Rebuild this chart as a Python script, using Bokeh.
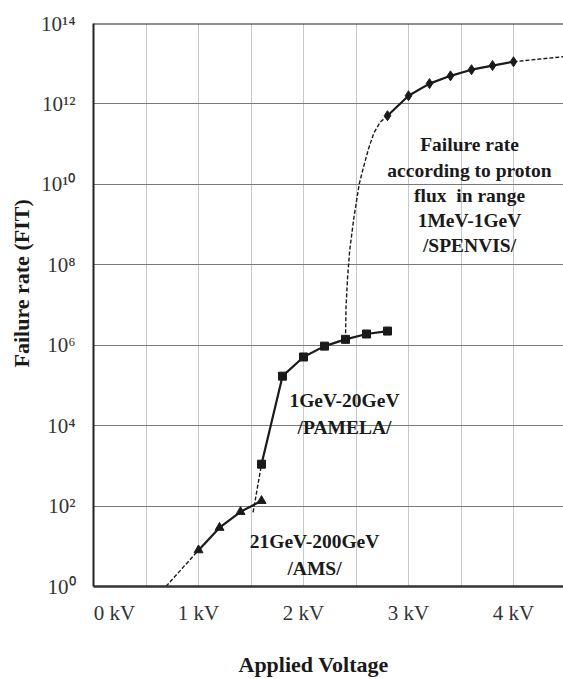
import math
from bokeh.plotting import figure
from bokeh.models import Range1d, FixedTicker, CustomJSTickFormatter, Label, Span, Title
from bokeh.embed import file_html
from bokeh.resources import INLINE

# ---- data ----
x_ticks = [0.2, 1, 2, 3, 4]          # the "0 kV" label sits right of the axis in the reference
x_grid = [0.5, 1.0, 1.5, 2.0, 2.5, 3.0, 3.5, 4.0]
y_ticks = [1e0, 1e2, 1e4, 1e6, 1e8, 1e10, 1e12, 1e14]
y_grid = [1e2, 1e4, 1e6, 1e8, 1e10, 1e12]

# AMS (21GeV-200GeV)
ams_v = [1.0, 1.2, 1.4, 1.6]
ams_f = [8, 29, 72, 135]
ams_ext_v = [0.69, 1.0]
ams_ext_f = [1.0, 8]

# PAMELA (1GeV-20GeV)
pamela_v = [1.6, 1.8, 2.0, 2.2, 2.4, 2.6, 2.8]
pamela_f = [1.1e3, 1.7e5, 5.1e5, 9.5e5, 1.4e6, 1.9e6, 2.25e6]
pamela_ext_v = [1.52, 1.6]
pamela_ext_f = [70, 1.1e3]

# SPENVIS (1MeV-1GeV)
spenvis_v = [2.8, 3.0, 3.2, 3.4, 3.6, 3.8, 4.0]
spenvis_f = [5.1e11, 1.6e12, 3.2e12, 5.0e12, 7.1e12, 9.0e12, 1.12e13]
spenvis_low_v = [2.4, 2.405, 2.42, 2.44, 2.48, 2.53, 2.57, 2.62, 2.67, 2.73, 2.8]
spenvis_low_f = [1.4e6, 9e6, 4.9e7, 2.3e8, 1.5e9, 1.0e10, 2.6e10, 7.8e10, 1.9e11, 3.5e11, 5.1e11]
spenvis_hi_v = [4.0, 4.5]
spenvis_hi_f = [1.12e13, 1.52e13]

SERIF = "Liberation Serif"
INK = "#1a1a1a"

p = figure(width=563, height=679, output_backend="svg", toolbar_location=None,
           x_range=Range1d(0, 4.476), y_range=Range1d(1, 1e14), y_axis_type="log",
           min_border_left=93, min_border_right=0, min_border_top=23, min_border_bottom=92)
p.outline_line_color = None
p.background_fill_color = "white"
p.border_fill_color = "white"

# grids
p.xgrid.ticker = FixedTicker(ticks=x_grid)
p.xgrid.grid_line_color = "#c8c8c8"
p.xgrid.grid_line_width = 1
p.ygrid.ticker = FixedTicker(ticks=y_grid)
p.ygrid.grid_line_color = "#7a7a7a"
p.ygrid.grid_line_width = 1

# x axis
xa = p.xaxis[0]
xa.ticker = FixedTicker(ticks=x_ticks)
xa.formatter = CustomJSTickFormatter(code='return (tick < 0.5 ? "0" : tick.toFixed(0)) + " kV";')
xa.major_tick_line_color = None
xa.minor_tick_line_color = None
xa.axis_line_width = 2.5
xa.axis_line_color = "#333333"
xa.major_label_text_font = SERIF
xa.major_label_text_font_size = "21px"
xa.major_label_text_color = "#333333"
xa.major_label_standoff = 8
# blank axis label used only as vertical spacing before the off-centre title
xa.axis_label = "\u00a0"
xa.axis_label_text_font_size = "16px"
xa.axis_label_standoff = 0

# y axis
ya = p.yaxis[0]
ya.ticker = FixedTicker(ticks=y_ticks)
ya.formatter = CustomJSTickFormatter(code=r'''
const sup = {"0":"\u2070","1":"\u00b9","2":"\u00b2","3":"\u00b3","4":"\u2074",
             "5":"\u2075","6":"\u2076","7":"\u2077","8":"\u2078","9":"\u2079"};
const e = Math.round(Math.log10(tick));
return "10" + String(e).split("").map(c => sup[c]).join("");
''')
ya.major_tick_line_color = None
ya.minor_tick_line_color = None
ya.axis_line_width = 2
ya.axis_line_color = "#222222"
ya.major_label_text_font = SERIF
ya.major_label_text_font_size = "21px"
ya.major_label_text_color = "#333333"
ya.major_label_standoff = 12

# top border
p.add_layout(Span(location=1e14, dimension="width", line_color="#222222", line_width=2))

# extrapolations (dashed)
dash = dict(line_color=INK, line_width=1.4, line_dash="4 2")
p.line(ams_ext_v, ams_ext_f, **dash)
p.line(pamela_ext_v, pamela_ext_f, **dash)
p.line(spenvis_low_v, spenvis_low_f, **dash)
p.line(spenvis_hi_v, spenvis_hi_f, **dash)

# measured curves
p.line(ams_v, ams_f, line_color=INK, line_width=2.2)
p.scatter(ams_v, ams_f, marker="triangle", size=9, color=INK)
p.line(pamela_v, pamela_f, line_color=INK, line_width=2.2)
p.scatter(pamela_v, pamela_f, marker="square", size=8, color=INK)
p.line(spenvis_v, spenvis_f, line_color=INK, line_width=2.2)
p.scatter(spenvis_v, spenvis_f, marker="diamond", size=10, color=INK)

# annotations
ann = dict(text_font=SERIF, text_font_style="bold", text_font_size="19.5px",
           text_color=INK, text_align="center", text_baseline="middle")
p.add_layout(Label(x=3.581, y=10 ** 9.727, text_line_height=1.2,
                   text="Failure rate\naccording to proton\nflux\u00a0 in range\n1MeV-1GeV\n/SPENVIS/", **ann))
p.add_layout(Label(x=2.39, y=10 ** 4.28, text_line_height=1.28,
                   text="1GeV-20GeV\n/PAMELA/", **ann))
p.add_layout(Label(x=2.105, y=10 ** 0.78, text_line_height=1.28,
                   text="21GeV-200GeV\n/AMS/", **ann))

# axis titles (as side titles so they can sit off-centre like the reference)
p.add_layout(Title(text="Failure rate (FIT)", align="left", offset=219,
                   text_font=SERIF, text_font_style="bold", text_font_size="22px",
                   text_color=INK, standoff=8), "left")
p.add_layout(Title(text="Applied Voltage", align="left", offset=145,
                   text_font=SERIF, text_font_style="bold", text_font_size="22px",
                   text_color=INK, standoff=5), "below")

open("out.html", "w").write(file_html(p, INLINE))
